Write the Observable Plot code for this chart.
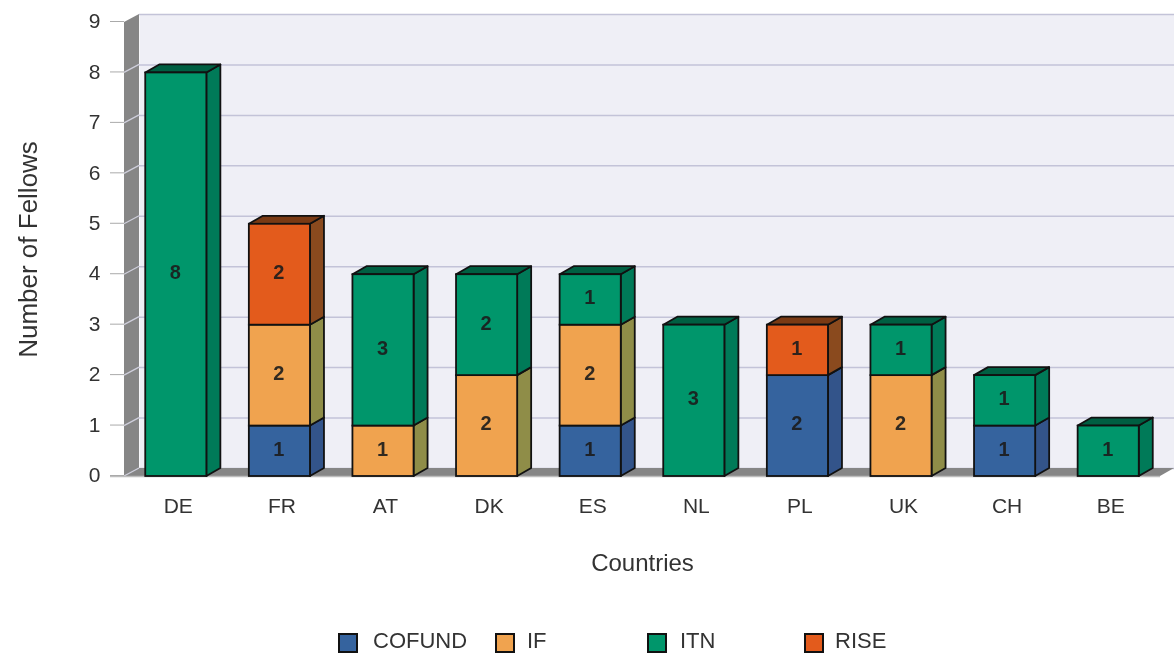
<!DOCTYPE html>
<html><head><meta charset="utf-8">
<script src="https://cdn.jsdelivr.net/npm/d3@7"></script>
<script src="https://cdn.jsdelivr.net/npm/@observablehq/plot@0.6"></script>
<style>
html,body{margin:0;padding:0;background:#fff;font-family:"Liberation Sans",Arial,sans-serif}
#wrap{position:relative;width:1174px;height:655px;overflow:hidden;filter:blur(.55px)}
#legend{position:absolute;left:0;top:628px;width:1174px;height:26px;color:#333;font-size:22px}
.it{position:absolute;top:0;height:26px;line-height:26px}
.sw{position:absolute;top:5px;width:16px;height:16px;border:2px solid #111;box-sizing:content-box}
</style></head><body>
<div id="wrap"><div id="chart"></div><div id="legend"></div></div>
<script>
const countries = ["DE","FR","AT","DK","ES","NL","PL","UK","CH","BE"];
const series = ["COFUND","IF","ITN","RISE"];
const cofund = [0,1,0,0,1,0,2,0,1,0];
const ifs    = [0,2,1,2,2,0,0,2,0,0];
const itn    = [8,0,3,2,1,3,0,1,1,1];
const rise   = [0,2,0,0,0,0,1,0,0,0];
const frontColors = ["#35639e","#f0a34f","#00966b","#e35b1c"];
const sideColors  = ["#33548a","#8f8d48","#007a58","#8a4a1e"];
const topColors   = ["#2a4a78","#8a7a3c","#005f42","#7a3a14"];
const yTicks = [0,1,2,3,4,5,6,7,8,9];
const depthX = 14, depthY = -8;

const columns = [cofund, ifs, itn, rise];
const rows = [];
countries.forEach((c,i)=>{
  let base = 0;
  series.forEach((s,k)=>{
    const v = columns[k][i];
    if(!v) return;
    rows.push({country:c, series:s, k, value:v, y1:base, y2:base+v, top:false});
    base += v;
  });
  rows[rows.length-1].top = true;
});

const svgEl = (name, attrs) => {
  const e = document.createElementNS("http://www.w3.org/2000/svg", name);
  for (const a in attrs) e.setAttribute(a, attrs[a]);
  return e;
};
const pts = a => a.map(p=>p.join(",")).join(" ");

// gray left wall and floor, derived from the frame of the plot
function shell(index, scales, values, dim, ctx, next){
  const g = svgEl("g",{});
  const L = dim.marginLeft, R = dim.width-dim.marginRight, T = dim.marginTop, B = dim.height-dim.marginBottom;
  g.append(svgEl("polygon",{points:pts([[L,T],[L+depthX+1,T+depthY],[L+depthX+1,B+depthY],[L,B]]),fill:"#868686"}));
  g.append(svgEl("polygon",{points:pts([[L,B],[L+depthX+1,B+depthY],[R+depthX,B+depthY],[R,B]]),fill:"#868686"}));
  for(const t of yTicks.slice(0,-1)){
    g.append(svgEl("line",{x1:L,y1:scales.y(t),x2:L+depthX+1,y2:scales.y(t)+depthY,stroke:"#cfcfdc","stroke-width":1.3}));
  }
  return g;
}
// side and top faces of each bar segment
function faces(index, scales, values, dim, ctx, next){
  const g = svgEl("g",{});
  const w = scales.x.bandwidth ? scales.x.bandwidth() : 60;
  const sty = {stroke:"#111","stroke-width":1.8,"stroke-linejoin":"round"};
  for(const i of index){
    const d = rows[i];
    const x0 = scales.x(d.country), x1 = x0+w, yb = scales.y(d.y1), yt = scales.y(d.y2);
    g.append(svgEl("polygon",{points:pts([[x1,yt],[x1+depthX,yt+depthY],[x1+depthX,yb+depthY],[x1,yb]]),fill:sideColors[d.k],...sty}));
    if(d.top) g.append(svgEl("polygon",{points:pts([[x0,yt],[x0+depthX,yt+depthY],[x1+depthX,yt+depthY],[x1,yt]]),fill:topColors[d.k],...sty}));
  }
  g.append(next(index,scales,values,dim,ctx));
  return g;
}

const plot = Plot.plot({
  width:1174, height:620,
  marginLeft:124, marginRight:14, marginTop:22, marginBottom:144,
  style:{fontFamily:'"Liberation Sans",Arial,sans-serif',background:"transparent",overflow:"visible"},
  x:{domain:countries, paddingInner:.41, paddingOuter:.205, round:false},
  y:{domain:[0,9], ticks:yTicks},
  color:{domain:series, range:frontColors},
  marks:[
    Plot.frame({fill:"#efeff6",stroke:"none",dx:depthX+1,dy:depthY}),
    Plot.ruleY(yTicks,{y:d=>d,stroke:"#c3c3d8",strokeWidth:1.5,dx:depthX+1,dy:depthY}),
    Plot.ruleY([0],{render:shell}),
    Plot.ruleY([0],{stroke:"#bdbdbd",strokeWidth:1.5,insetLeft:-14}),
    Plot.axisY({ticks:yTicks,tickSize:14,stroke:"#aaa",tickPadding:10,fontSize:21,fill:"#333",dy:-1,label:null}),
    Plot.axisX({tickSize:0,tickPadding:22,fontSize:21,fill:"#333",dx:2,label:null}),
    Plot.text(["Number of Fellows"],{frameAnchor:"left",dx:-96,textAnchor:"middle",rotate:-90,fontSize:26,fill:"#333",text:d=>d}),
    Plot.text(["Countries"],{frameAnchor:"bottom",dy:94,fontSize:24,fill:"#333",text:d=>d}),
    Plot.barY(rows,{x:"country",y1:"y1",y2:"y2",fill:"series",stroke:"#111",strokeWidth:1.8,render:faces}),
    Plot.text(rows,{x:"country",y:d=>(d.y1+d.y2)/2,text:"value",fontSize:20,fontWeight:"bold",fill:"#1c1c1c",opacity:.9,dx:-1,dy:-2})
  ]
});
document.getElementById("chart").append(plot);

const legendX = [338,495,647,804], textX = [373,527,680,835];
const lg = document.getElementById("legend");
series.forEach((s,k)=>{
  const sw = document.createElement("div");
  sw.className="sw"; sw.style.left=legendX[k]+"px"; sw.style.background=frontColors[k];
  const t = document.createElement("div");
  t.className="it"; t.style.left=textX[k]+"px"; t.textContent=s;
  lg.append(sw,t);
});
</script>
</body></html>
